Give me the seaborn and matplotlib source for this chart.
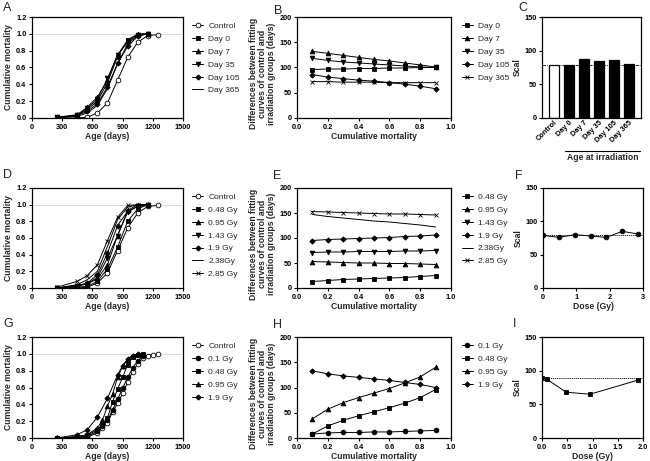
import matplotlib
matplotlib.use("Agg")
import matplotlib.pyplot as plt
import seaborn as sns
import pandas as pd

sns.set_style("ticks")
plt.rcParams['font.family'] = ['Liberation Sans', 'DejaVu Sans']
plt.rcParams['font.weight'] = 'bold'
plt.rcParams['axes.labelweight'] = 'bold'

# ---------------- data ----------------
age_ctrl = [250, 450, 550, 650, 750, 850, 950, 1050, 1150, 1250]
mort_ctrl = [0.0, 0.0, 0.01, 0.06, 0.18, 0.45, 0.72, 0.90, 0.98, 0.99]
age_A = [250, 450, 550, 650, 750, 850, 950, 1050, 1150]
mort_day0 = [0.0, 0.03, 0.10, 0.20, 0.42, 0.73, 0.93, 0.99, 1.0]
mort_day7 = [0.01, 0.04, 0.13, 0.25, 0.45, 0.75, 0.92, 1.0, 1.0]
mort_day35 = [0.01, 0.03, 0.12, 0.22, 0.47, 0.75, 0.90, 0.99, 1.0]
mort_day105 = [0.0, 0.03, 0.08, 0.17, 0.37, 0.65, 0.85, 0.97, 1.0]
mort_day365 = [0.0, 0.02, 0.06, 0.15, 0.35, 0.64, 0.88, 0.98, 1.0]

cm = [0.1, 0.2, 0.3, 0.4, 0.5, 0.6, 0.7, 0.8, 0.9]
diff_day0 = [96, 97, 97, 98, 98, 99, 99, 100, 100]
diff_day7 = [132, 128, 124, 120, 116, 113, 109, 105, 101]
diff_day35 = [118, 114, 111, 109, 107, 105, 103, 101, 100]
diff_day105 = [86, 81, 78, 75, 73, 70, 67, 63, 58]
diff_day365 = [72, 72, 71, 71, 71, 70, 70, 70, 70]

bar_cats = ["Control", "Day 0", "Day 7", "Day 35", "Day 105", "Day 365"]
bar_scal = [79, 78, 87, 84, 86, 80]
scal_ref_C = 78

age_D = [250, 450, 550, 650, 750, 850, 950, 1050, 1150]
mort_048 = [0.0, 0.01, 0.02, 0.08, 0.23, 0.49, 0.80, 0.95, 1.0]
mort_095 = [0.0, 0.02, 0.05, 0.11, 0.28, 0.63, 0.93, 1.0, 1.0]
mort_143 = [0.0, 0.03, 0.05, 0.13, 0.36, 0.63, 0.91, 0.98, 1.0]
mort_19 = [0.0, 0.03, 0.06, 0.16, 0.42, 0.75, 0.92, 0.98, 1.0]
mort_238 = [0.0, 0.04, 0.10, 0.20, 0.50, 0.82, 0.97, 1.0, 1.0]
mort_285 = [0.01, 0.08, 0.15, 0.28, 0.57, 0.85, 0.99, 1.0, 1.0]

diffE_048 = [13, 15, 17, 18, 19, 20, 21, 23, 25]
diffE_095 = [53, 52, 51, 50, 50, 49, 49, 48, 47]
diffE_143 = [71, 72, 72, 73, 73, 73, 74, 74, 75]
diffE_19 = [95, 97, 98, 99, 100, 101, 103, 104, 106]
diffE_238 = [147, 143, 140, 137, 134, 132, 129, 126, 122]
diffE_285 = [153, 152, 151, 150, 149, 148, 148, 147, 146]

dose_F = [0, 0.48, 0.95, 1.43, 1.9, 2.38, 2.85]
scal_F = [79, 76, 80, 78, 76, 85, 81]
scal_ref_F = 79

age_G_ctrl = [250, 450, 550, 650, 700, 750, 800, 850, 900, 950, 1000, 1050, 1100, 1150, 1200, 1250]
mort_G_ctrl = [0.0, 0.0, 0.01, 0.06, 0.12, 0.18, 0.31, 0.41, 0.53, 0.66, 0.79, 0.88, 0.95, 0.98, 0.99, 1.0]
age_G = [250, 450, 550, 650, 700, 750, 800, 850, 900, 950, 1000, 1050, 1100]
mortG_01 = [0.0, 0.01, 0.02, 0.08, 0.14, 0.21, 0.33, 0.46, 0.59, 0.72, 0.83, 0.92, 0.97]
mortG_048 = [0.0, 0.01, 0.03, 0.10, 0.16, 0.24, 0.43, 0.58, 0.72, 0.87, 0.96, 0.99, 1.0]
mortG_095 = [0.0, 0.02, 0.04, 0.12, 0.21, 0.38, 0.52, 0.72, 0.85, 0.93, 0.98, 1.0, 1.0]
age_G19 = [250, 450, 550, 650, 750, 850, 900, 950, 1000, 1050]
mortG_19 = [0.0, 0.04, 0.10, 0.25, 0.47, 0.75, 0.86, 0.94, 0.98, 1.0]

diffH_01 = [8, 10, 11, 11, 12, 12, 13, 14, 15]
diffH_048 = [8, 24, 35, 44, 52, 60, 69, 80, 96]
diffH_095 = [38, 57, 70, 80, 89, 98, 109, 121, 140]
diffH_19 = [133, 127, 123, 120, 117, 114, 110, 106, 100]

dose_I = [0, 0.1, 0.48, 0.95, 1.9]
scal_I = [89, 87, 68, 65, 86]
scal_ref_I = 89

# ---------------- layout ----------------
W, H = 650, 461
fig = plt.figure(figsize=(6.5, 4.61), dpi=100)


def add_ax(x0, x1, y0, y1):
    return fig.add_axes([x0 / W, (H - y1) / H, (x1 - x0) / W, (y1 - y0) / H])


TICK = 5.3
LAB = 6.2
LEG = 6


def style(ax):
    for s in ax.spines.values():
        s.set_visible(True)
        s.set_linewidth(0.9)
        s.set_color('black')
    ax.tick_params(direction='out', length=2.5, width=0.8, labelsize=TICK, pad=1.5, colors='black')
    ax.xaxis.label.set_size(LAB)
    ax.yaxis.label.set_size(LAB)


def series(ax, x, y, marker, label, open_=False, ms=3.4):
    kw = dict(color='black', linewidth=0.7, markersize=ms, markeredgecolor='black',
              markeredgewidth=0.6)
    if marker is not None:
        kw['marker'] = marker
        kw['markerfacecolor'] = 'white' if open_ else 'black'
    sns.lineplot(x=x, y=y, ax=ax, label=label, **kw)


def legend(ax, xoff=1.04):
    ax.legend(loc='upper left', bbox_to_anchor=(xoff, 0.98), borderaxespad=0, frameon=False,
              prop={'size': LEG, 'weight': 'normal'}, handlelength=1.3, handletextpad=0.6,
              labelspacing=0.6)


def panel_letter(x, y, s):
    fig.text(x / W, 1 - y / H, s, fontsize=9, fontweight='normal', va='center', ha='left')


def surv_axes(ax):
    ax.axhline(1.0, color='#d8d8d8', lw=0.7, zorder=0)
    ax.set_xlim(0, 1500)
    ax.set_ylim(0, 1.2)
    ax.set_xticks([0, 300, 600, 900, 1200, 1500])
    ax.set_yticks([0.0, 0.2, 0.4, 0.6, 0.8, 1.0, 1.2])
    ax.set_yticklabels(['0.0', '0.2', '0.4', '0.6', '0.8', '1.0', '1.2'])
    ax.set_xlabel('Age (days)', labelpad=1)
    ax.set_ylabel('Cumulative mortality', labelpad=2)
    style(ax)


def diff_axes(ax):
    ax.set_xlim(0, 1.0)
    ax.set_ylim(0, 200)
    ax.set_xticks([0.0, 0.2, 0.4, 0.6, 0.8, 1.0])
    ax.set_xticklabels(['0.0', '0.2', '0.4', '0.6', '0.8', '1.0'])
    ax.set_yticks([0, 50, 100, 150, 200])
    ax.set_xlabel('Cumulative mortality', labelpad=1)
    ax.set_ylabel('Differences between fitting\ncurves of control and\nirradiation groups (days)',
                  linespacing=1.0)
    style(ax)
    ax.yaxis.set_label_coords(-0.135, 0.44)


# ---- A ----
axA = add_ax(32, 183, 17, 118)
series(axA, age_ctrl, mort_ctrl, 'o', 'Control', open_=True)
series(axA, age_A, mort_day0, 's', 'Day 0')
series(axA, age_A, mort_day7, '^', 'Day 7')
series(axA, age_A, mort_day35, 'v', 'Day 35')
series(axA, age_A, mort_day105, 'D', 'Day 105', ms=2.7)
series(axA, age_A, mort_day365, None, 'Day 365')
surv_axes(axA)
legend(axA)
panel_letter(3, 8, 'A')

# ---- B ----
axB = add_ax(297, 451, 17, 118)
series(axB, cm, diff_day0, 's', 'Day 0')
series(axB, cm, diff_day7, '^', 'Day 7')
series(axB, cm, diff_day35, 'v', 'Day 35')
series(axB, cm, diff_day105, 'D', 'Day 105', ms=2.7)
series(axB, cm, diff_day365, 'x', 'Day 365')
diff_axes(axB)
legend(axB, xoff=1.05)
panel_letter(274, 11, 'B')

# ---- C ----
axC = add_ax(542, 641, 17, 118)
dfC = pd.DataFrame({'group': bar_cats, 'scal': bar_scal})
sns.barplot(data=dfC, x='group', y='scal', hue='group', legend=False,
            palette=['white'] + ['black'] * 5, edgecolor='black', linewidth=0.9,
            width=0.64, ax=axC)
axC.axhline(scal_ref_C, color='black', lw=0.6, ls=(0, (4, 1.5, 1, 1.5)), zorder=0.5)
axC.set_xlim(-0.8, 5.8)
axC.set_ylim(0, 150)
axC.set_yticks([0, 50, 100, 150])
axC.set_xlabel('')
axC.set_ylabel('Scal', labelpad=2)
style(axC)
axC.tick_params(axis='x', length=0, pad=1)
for lab in axC.get_xticklabels():
    lab.set_rotation(45)
    lab.set_ha('right')
    lab.set_rotation_mode('anchor')
axC.plot([0.23, 0.99], [-0.327, -0.327], transform=axC.transAxes, color='black', lw=0.8,
         clip_on=False)
axC.text(0.61, -0.39, 'Age at irradiation', transform=axC.transAxes, ha='center', va='center',
         fontsize=LAB, fontweight='bold')
panel_letter(518, 8, 'C')

# ---- D ----
axD = add_ax(32, 183, 188, 288)
series(axD, age_ctrl, mort_ctrl, 'o', 'Control', open_=True)
series(axD, age_D, mort_048, 's', '0.48 Gy')
series(axD, age_D, mort_095, '^', '0.95 Gy')
series(axD, age_D, mort_143, 'v', '1.43 Gy')
series(axD, age_D, mort_19, 'D', '1.9 Gy', ms=2.7)
series(axD, age_D, mort_238, None, '2.38Gy')
series(axD, age_D, mort_285, 'x', '2.85 Gy')
surv_axes(axD)
legend(axD)
panel_letter(3, 175, 'D')

# ---- E ----
axE = add_ax(297, 451, 188, 288)
series(axE, cm, diffE_048, 's', '0.48 Gy')
series(axE, cm, diffE_095, '^', '0.95 Gy')
series(axE, cm, diffE_143, 'v', '1.43 Gy')
series(axE, cm, diffE_19, 'D', '1.9 Gy', ms=2.7)
series(axE, cm, diffE_238, None, '2.38Gy')
series(axE, cm, diffE_285, 'x', '2.85 Gy')
diff_axes(axE)
legend(axE, xoff=1.05)
panel_letter(273, 176, 'E')

# ---- F ----
axF = add_ax(543, 643, 188, 288)
axF.axhline(scal_ref_F, color='black', lw=0.6, ls=(0, (1.5, 1)), zorder=0.5)
series(axF, dose_F, scal_F, 'o', None)
axF.set_xlim(0, 3)
axF.set_ylim(0, 150)
axF.set_xticks([0, 1, 2, 3])
axF.set_yticks([0, 50, 100, 150])
axF.set_xlabel('Dose (Gy)', labelpad=1)
axF.set_ylabel('Scal', labelpad=2)
style(axF)
panel_letter(515, 176, 'F')

# ---- G ----
axG = add_ax(32, 183, 337, 438)
series(axG, age_G_ctrl, mort_G_ctrl, 'o', 'Control', open_=True)
series(axG, age_G, mortG_01, 'o', '0.1 Gy')
series(axG, age_G, mortG_048, 's', '0.48 Gy')
series(axG, age_G, mortG_095, '^', '0.95 Gy')
series(axG, age_G19, mortG_19, 'D', '1.9 Gy', ms=2.7)
surv_axes(axG)
legend(axG)
panel_letter(3, 324, 'G')

# ---- H ----
axH = add_ax(297, 451, 337, 438)
series(axH, cm, diffH_01, 'o', '0.1 Gy')
series(axH, cm, diffH_048, 's', '0.48 Gy')
series(axH, cm, diffH_095, '^', '0.95 Gy')
series(axH, cm, diffH_19, 'D', '1.9 Gy', ms=2.7)
diff_axes(axH)
legend(axH, xoff=1.05)
panel_letter(273, 325, 'H')

# ---- I ----
axI = add_ax(542, 643, 337, 438)
axI.axhline(scal_ref_I, color='black', lw=0.6, ls=(0, (1.5, 1)), zorder=0.5)
series(axI, dose_I, scal_I, 's', None)
axI.set_xlim(0, 2.0)
axI.set_ylim(0, 150)
axI.set_xticks([0.0, 0.5, 1.0, 1.5, 2.0])
axI.set_xticklabels(['0.0', '0.5', '1.0', '1.5', '2.0'])
axI.set_yticks([0, 50, 100, 150])
axI.set_xlabel('Dose (Gy)', labelpad=1)
axI.set_ylabel('Scal', labelpad=2)
style(axI)
panel_letter(513, 324, 'I')

fig.savefig('out.png', dpi=100)
